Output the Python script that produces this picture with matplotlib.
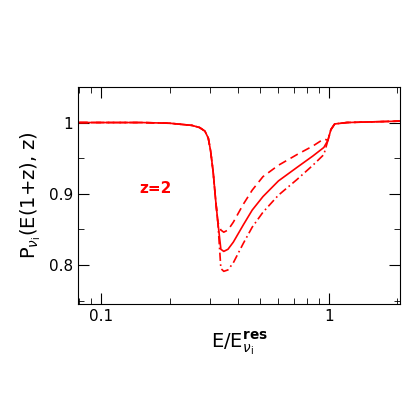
import matplotlib
matplotlib.use("Agg")
import matplotlib.pyplot as plt
from matplotlib.ticker import FixedLocator, NullFormatter

e_left = [0.08, 0.15, 0.2, 0.25, 0.27, 0.285, 0.295, 0.302, 0.31, 0.318, 0.325]
y_left = [1.0, 1.0, 0.999, 0.996, 0.993, 0.988, 0.978, 0.96, 0.93, 0.89, 0.86]
e_mid = [0.335, 0.345, 0.36, 0.38, 0.42, 0.46, 0.513, 0.6, 0.724, 0.85, 0.95]
y_solid = [0.822, 0.819, 0.822, 0.832, 0.856, 0.877, 0.896, 0.918, 0.937, 0.953, 0.965]
y_dash = [0.849, 0.846, 0.849, 0.860, 0.885, 0.905, 0.924, 0.940, 0.955, 0.967, 0.977]
y_dashdot = [0.795, 0.791, 0.793, 0.803, 0.830, 0.853, 0.874, 0.898, 0.920, 0.940, 0.955]
e_right = [0.99, 1.02, 1.06, 1.2, 2.05]
y_right = [0.975, 0.99, 0.998, 1.0, 1.002]

fig = plt.figure(figsize=(4.2, 4.2), dpi=100)
ax = fig.add_axes([0.186, 0.276, 0.766, 0.517])
for ym, ls in [(y_solid, '-'), (y_dash, (0, (5, 3))), (y_dashdot, (0, (5, 2, 1, 2)))]:
    ax.plot(e_left + e_mid + e_right, y_left + ym + y_right, color='red', lw=1.2, ls=ls)
ax.set_xscale('log')
ax.set_xlim(0.079, 2.05)
ax.set_ylim(0.745, 1.05)
ax.set_xticks([0.1, 1])
ax.set_xticklabels(['0.1', '1'])
ax.xaxis.set_minor_locator(FixedLocator([0.08, 0.09] + [i/10 for i in range(2, 10)] + [2]))
ax.xaxis.set_minor_formatter(NullFormatter())
ax.set_yticks([0.8, 0.9, 1.0])
ax.set_yticklabels(['0.8', '0.9', '1'])
ax.set_yticks([0.75, 0.85, 0.95, 1.05], minor=True)
ax.tick_params(which='both', direction='in', top=True, right=True, labelsize=11)
ax.tick_params(which='major', length=8)
ax.tick_params(which='minor', length=4)
ax.text(0.173, 0.908, 'z=2', color='red', fontweight='bold', fontsize=11, ha='center', va='center')
ax.set_ylabel(r'P$_{\nu_{\rm i}}$(E(1+z), z)', fontsize=14)
ax.set_xlabel(r'E/E$^{\bf res}_{\nu_{\rm i}}$', fontsize=14)
fig.savefig('out.png', dpi=100)
